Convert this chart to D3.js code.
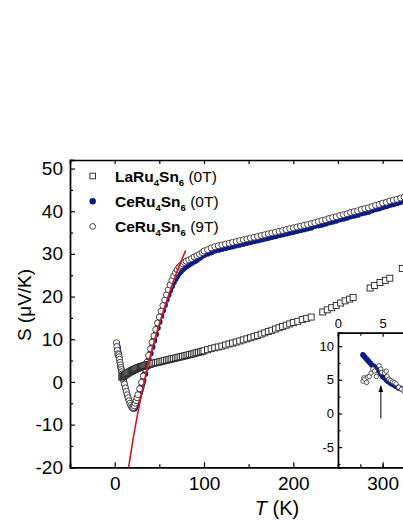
<!DOCTYPE html>
<html><head><meta charset="utf-8">
<script src="https://cdn.jsdelivr.net/npm/d3@7"></script>
<style>
html,body{margin:0;padding:0;background:#fff;overflow:hidden}
svg{display:block}
text{font-family:"Liberation Sans",Arial,Helvetica,sans-serif}
</style>
</head><body>
<svg id="c" width="403" height="521"></svg>
<script>
// ---------------- DATA ----------------
// LaRu4Sn6 (0T) - open squares
const laT = [8,9,10,11,12,13,14,15,16,17,18,19,20,21,22,23,24,25,26,27,28,29,30,31,32,33,34,35,36,37,38,39,40,
  42,44,46,48,50,52,54,56,58,60,62,64,66,68,70,72,74,76,78,80,82,84,86,88,90,92,94,96,98,
  100,104,108,112,116,120,124,128,132,136,140,144,148,152,156,160,164,168,172,176,180,184,188,192,196,200,
  205,210,215,220,233,238,243,248,253,258,263,267,286,291,297,303,308,322,330,338];
const laS = [1.1,1.25,1.4,1.55,1.7,1.85,2.0,2.1,2.25,2.35,2.5,2.6,2.7,2.8,2.9,3.0,3.1,3.2,3.3,3.35,3.45,3.5,3.6,3.65,3.7,3.8,3.85,3.9,3.95,4.0,4.05,4.1,4.15,
  4.3,4.4,4.5,4.6,4.7,4.8,4.9,5.0,5.1,5.2,5.3,5.4,5.5,5.6,5.7,5.8,5.9,6.0,6.1,6.2,6.3,6.4,6.5,6.6,6.75,6.85,6.95,7.05,7.15,
  7.3,7.55,7.8,8.0,8.2,8.4,8.65,8.9,9.1,9.35,9.6,9.85,10.1,10.35,10.6,10.9,11.2,11.5,11.8,12.1,12.4,12.7,13.0,13.3,13.6,13.9,
  14.2,14.6,14.9,15.2,16.4,16.9,17.4,17.9,18.5,19.0,19.4,19.8,22.0,22.6,23.3,23.8,24.3,26.6,27.6,28.6];

// CeRu4Sn6 (0T) - filled navy circles
const ce0T = [2.5,3,3.5,4,4.5,5,5.5,6,6.5,7,7.5,8,9,10,11,12,13,14,15,16,17,18,19,20,21,22,23,24,25,26,27,28,29,30,31,32,
  34,36,38,40,42,44,46,48,50,52,54,56,58,60,62,64,66,68,70,72,74,76,78,80,82,84,86,88,90,92,94,96,98,
  100,104,108,112,116,120,124,128,132,136,140,144,148,152,156,160,164,168,172,176,180,184,188,192,196,200,
  204,208,212,216,220,224,228,232,236,240,244,248,252,256,260,264,268,272,276,280,284,288,292,296,300,
  304,308,312,316,320,324,328,332,336,340,344];
const ce0S = [9.0,8.4,7.8,7.1,6.5,5.8,5.0,4.3,3.7,3.2,2.7,2.2,1.2,0.3,-0.6,-1.4,-2.2,-2.9,-3.6,-4.2,-4.8,-5.3,-5.7,-6.0,-6.2,-6.2,-5.8,-5.3,-4.7,-4.0,-3.3,-2.6,-1.9,-1.1,-0.3,0.4,
  1.9,3.5,5.1,6.7,8.2,9.7,11.2,12.7,14.1,15.5,16.8,18.1,19.3,20.4,21.5,22.5,23.4,24.2,24.9,25.5,26.0,26.4,26.8,27.1,27.4,27.7,27.9,28.2,28.4,28.7,29.0,29.3,29.6,
  29.8,30.1,30.4,30.8,31.0,31.2,31.4,31.6,31.8,32.0,32.2,32.4,32.6,32.8,33.0,33.2,33.4,33.6,33.8,34.0,34.2,34.4,34.6,34.8,35.0,35.2,
  35.4,35.6,35.8,36.0,36.2,36.6,36.7,36.9,37.1,37.4,37.6,37.8,38.1,38.3,38.5,38.8,39.0,39.2,39.5,39.7,39.9,40.2,40.5,40.7,41.0,
  41.2,41.5,41.7,41.9,42.2,42.4,42.7,42.9,43.1,43.4,43.6];

// CeRu4Sn6 (9T) - open circles
const ce9T = [2,2.5,3,3.5,4,4.5,5,5.5,6,6.5,7,7.5,8,8.5,9,10,11,12,13,14,15,16,17,18,19,20,21,22,23,24,25,26,28,30,32,
  34,36,38,40,42,44,46,48,50,52,54,56,58,60,62,64,66,68,70,72,74,76,78,80,83,86,89,92,95,98,
  100,104,108,112,116,120,124,128,132,136,140,144,148,152,156,160,164,168,172,176,180,184,188,192,196,200,
  204,208,212,216,220,224,228,232,236,240,244,248,252,256,260,264,268,272,276,280,284,288,292,296,300,
  304,308,312,316,320,324,328,332,336,340,344];
const ce9S = [9.2,8.3,7.4,6.6,6.2,6.4,5.9,5.3,4.6,4.0,3.4,2.9,2.4,1.9,1.4,0.4,-0.5,-1.4,-2.2,-3.0,-3.7,-4.4,-5.0,-5.5,-5.9,-6.1,-6.0,-5.6,-5.0,-4.4,-3.7,-3.0,-1.6,-0.1,1.4,
  3.0,4.6,6.2,7.8,9.3,10.8,12.3,13.8,15.2,16.6,17.9,19.2,20.4,21.6,22.7,23.8,24.8,25.6,26.3,26.9,27.3,27.7,28.0,28.3,28.6,28.9,29.3,29.6,29.9,30.3,
  30.7,31.0,31.4,31.7,31.9,32.1,32.3,32.5,32.7,32.9,33.1,33.3,33.5,33.7,33.9,34.1,34.3,34.5,34.7,34.9,35.1,35.3,35.5,35.7,35.9,36.1,
  36.3,36.5,36.7,36.9,37.1,37.3,37.6,37.8,38.0,38.3,38.5,38.7,39.0,39.2,39.4,39.7,39.9,40.1,40.4,40.6,40.8,41.1,41.4,41.6,41.9,
  42.1,42.4,42.6,42.8,43.1,43.3,43.6,43.8,44.0,44.3,44.5];

// Red fit line
const fitT = [15.7,20.5,26,30,34.4,41,48.5,55,59.7,67,73,79.5];
const fitS = [-19.9,-13.6,-7.2,-2.9,1.3,7.0,12.6,16.9,19.9,24.3,27.6,30.8];

// Inset data (low T)
const in0T = [2.8,3.0,3.2,3.4,3.6,3.8,4.0,4.2,4.4,4.6,4.8,5.0,5.2,5.4,5.6,5.8,6.0,6.2,6.4,6.6,6.8,7.0,7.2,7.4,7.6];
const in0S = [8.7,8.4,8.1,7.8,7.5,7.2,7.0,6.8,6.5,6.3,5.9,5.5,5.3,5.0,4.8,4.6,4.4,4.3,4.1,4.0,3.8,3.7,3.6,3.4,3.3];
const in9T = [2.8,2.9,3.0,3.2,3.3,3.5,3.7,3.9,4.1,4.3,4.6,4.8,4.9,5.2,5.4,5.5,5.7,5.9,6.1,6.3,6.5,6.8,7.1,7.4];
const in9S = [4.8,5.3,5.1,4.6,5.4,5.5,6.0,6.6,6.3,5.5,7.1,6.6,6.1,6.0,6.3,5.5,5.1,4.9,4.7,4.6,4.4,3.9,3.6,3.3];
const arrowT = 4.8, arrowS = [-0.75, 4.1];

// Tick values
const xMajor = [0,100,200,300];
const xAll = [-50,0,50,100,150,200,250,300,350];
const yMajor = [-20,-10,0,10,20,30,40,50];
const yMinor = [-15,-5,5,15,25,35,45];
const ixLabeled = [0,5];
const ixMajor = [0,5,10];
const ixMinor = [2.5,7.5];
const iyMajor = [-5,0,5,10];
const iyMinor = [-7.5,-2.5,2.5,7.5];

const legendItems = [
  {name:"LaRu", s1:"4", mid:"Sn", s2:"6", field:" (0T)", type:"square"},
  {name:"CeRu", s1:"4", mid:"Sn", s2:"6", field:" (0T)", type:"dot"},
  {name:"CeRu", s1:"4", mid:"Sn", s2:"6", field:" (9T)", type:"circle"}
];

// ---------------- CHART ----------------
const svg = d3.select("#c");
const NAVY = "#0a1a8a";
const fmt = d => String(d);
const x = d3.scaleLinear().domain([-50,350]).range([70,427.3]);
const y = d3.scaleLinear().domain([-20,52]).range([467.3,160]);
const xi = d3.scaleLinear().domain([0,10]).range([x(250), x(350)]);
const yi = d3.scaleLinear().domain([-8,12]).range([467.3,332.7]);

const defs = svg.append("defs");
defs.append("clipPath").attr("id","mainclip")
  .append("rect").attr("x",70).attr("y",160).attr("width",400).attr("height",307.3);
defs.append("clipPath").attr("id","insclip")
  .append("rect").attr("x",xi(0)).attr("y",yi(12)).attr("width",120).attr("height",yi(-8)-yi(12));
defs.append("marker").attr("id","arr").attr("viewBox","0 0 10 10")
  .attr("refX",9).attr("refY",5).attr("markerWidth",7).attr("markerHeight",7)
  .attr("orient","auto").append("path").attr("d","M0,1.5 L10,5 L0,8.5 Z").attr("fill","#000");

const main = svg.append("g").attr("clip-path","url(#mainclip)");
const zip = (a,b)=>a.map((v,i)=>[v,b[i]]);

// navy 0T
main.append("g").selectAll("circle").data(zip(ce0T,ce0S)).join("circle")
  .attr("cx",d=>x(d[0])).attr("cy",d=>y(d[1])).attr("r",3.2).attr("fill",NAVY);
// open 9T
main.append("g").selectAll("circle").data(zip(ce9T,ce9S)).join("circle")
  .attr("cx",d=>x(d[0])).attr("cy",d=>y(d[1])).attr("r",3.0)
  .attr("fill","#fff").attr("stroke","#333").attr("stroke-width",0.9);
// squares La
main.append("g").selectAll("rect").data(zip(laT,laS)).join("rect")
  .attr("x",d=>x(d[0])-3).attr("y",d=>y(d[1])-3).attr("width",6).attr("height",6)
  .attr("fill","#fff").attr("stroke","#222").attr("stroke-width",0.9);
// red fit
main.append("path").datum(zip(fitT,fitS))
  .attr("d",d3.line().x(d=>x(d[0])).y(d=>y(d[1])).curve(d3.curveMonotoneX))
  .attr("fill","none").attr("stroke","#e3121b").attr("stroke-width",1.6);

// Inset
svg.append("rect").attr("x",xi(0)).attr("y",yi(12)).attr("width",120).attr("height",yi(-8)-yi(12)).attr("fill","#fff");
const ins = svg.append("g").attr("clip-path","url(#insclip)");
ins.append("g").selectAll("circle").data(zip(in0T,in0S)).join("circle")
  .attr("cx",d=>xi(d[0])).attr("cy",d=>yi(d[1])).attr("r",2.8).attr("fill",NAVY);
ins.append("g").selectAll("circle").data(zip(in9T,in9S)).join("circle")
  .attr("cx",d=>xi(d[0])).attr("cy",d=>yi(d[1])).attr("r",2.2)
  .attr("fill","#fff").attr("stroke","#333").attr("stroke-width",0.8);
ins.append("line").attr("x1",xi(arrowT)).attr("x2",xi(arrowT))
  .attr("y1",yi(arrowS[0])).attr("y2",yi(arrowS[1]))
  .attr("stroke","#000").attr("stroke-width",1).attr("marker-end","url(#arr)");

// ---------- Axes ----------
function style(g, fs){
  g.select(".domain").attr("stroke","#000").attr("stroke-width",1.4);
  g.selectAll(".tick line").attr("stroke","#000").attr("stroke-width",1.2);
  g.selectAll(".tick text").attr("font-size",fs).attr("fill","#000")
    .attr("font-family",'"Liberation Sans",Arial,sans-serif');
}
// main left
svg.append("g").attr("transform","translate(70,0)")
  .call(d3.axisLeft(y).tickValues(yMinor).tickSize(-3).tickFormat("")).call(g=>style(g,19));
svg.append("g").attr("transform","translate(70,0)")
  .call(d3.axisLeft(y).tickValues(yMajor).tickSize(-5).tickPadding(7).tickFormat(fmt))
  .call(g=>style(g,19));
// main bottom
svg.append("g").attr("transform","translate(0,467.3)")
  .call(d3.axisBottom(x).tickValues(xAll.filter(v=>!xMajor.includes(v))).tickSize(-3).tickFormat(""))
  .call(g=>style(g,19));
svg.append("g").attr("transform","translate(0,467.3)")
  .call(d3.axisBottom(x).tickValues(xMajor).tickSize(-5).tickPadding(9).tickFormat(fmt))
  .call(g=>style(g,19));
// main top
svg.append("g").attr("transform","translate(0,160)")
  .call(d3.axisTop(x).tickValues(xAll).tickSize(-4).tickFormat(""))
  .call(g=>style(g,19));

// inset axes
svg.append("g").attr("transform",`translate(${xi(0)},0)`)
  .call(d3.axisLeft(yi).tickValues(iyMinor).tickSize(-2.5).tickFormat(""))
  .call(g=>style(g,13));
svg.append("g").attr("transform",`translate(${xi(0)},0)`)
  .call(d3.axisLeft(yi).tickValues(iyMajor).tickSize(-4).tickPadding(4).tickFormat(fmt))
  .call(g=>style(g,13));
svg.append("g").attr("transform",`translate(0,${yi(12)})`)
  .call(d3.axisTop(xi).tickValues(ixMinor.concat([10])).tickSize(-3).tickFormat(""))
  .call(g=>style(g,13));
svg.append("g").attr("transform",`translate(0,${yi(12)})`)
  .call(d3.axisTop(xi).tickValues(ixLabeled).tickSize(-4).tickPadding(5).tickFormat(fmt))
  .call(g=>style(g,13));
svg.append("g").attr("transform",`translate(0,${yi(-8)})`)
  .call(d3.axisBottom(xi).tickValues(ixMajor.concat(ixMinor)).tickSize(-3).tickFormat(""))
  .call(g=>{style(g,13); g.select(".domain").remove();});

// axis titles
svg.append("text").attr("transform","translate(31,305) rotate(-90)")
  .attr("text-anchor","middle").attr("font-size",19).text("S (\u03BCV/K)");
const xt = svg.append("text").attr("x",277).attr("y",515).attr("text-anchor","middle").attr("font-size",20);
xt.append("tspan").attr("font-style","italic").text("T");
xt.append("tspan").text(" (K)");

// legend
const lg = svg.append("g");
legendItems.forEach((it,i)=>{
  const cy = 176 + i*25.2, mx = 92.7;
  if(it.type==="square") lg.append("rect").attr("x",mx-2.8).attr("y",cy-2.8).attr("width",5.6).attr("height",5.6)
      .attr("fill","#fff").attr("stroke","#222").attr("stroke-width",0.9);
  else if(it.type==="dot") lg.append("circle").attr("cx",mx).attr("cy",cy).attr("r",3.2).attr("fill",NAVY);
  else lg.append("circle").attr("cx",mx).attr("cy",cy).attr("r",2.9).attr("fill","#fff").attr("stroke","#333").attr("stroke-width",0.9);
  const t = lg.append("text").attr("x",115).attr("y",cy+6).attr("font-size",15.5);
  t.append("tspan").attr("font-weight","bold").text(it.name);
  t.append("tspan").attr("font-weight","bold").attr("font-size",9.5).attr("dy",4).text(it.s1);
  t.append("tspan").attr("font-weight","bold").attr("dy",-4).text(it.mid);
  t.append("tspan").attr("font-weight","bold").attr("font-size",9.5).attr("dy",4).text(it.s2);
  t.append("tspan").attr("dy",-4).text(it.field);
});
</script>
</body></html>
